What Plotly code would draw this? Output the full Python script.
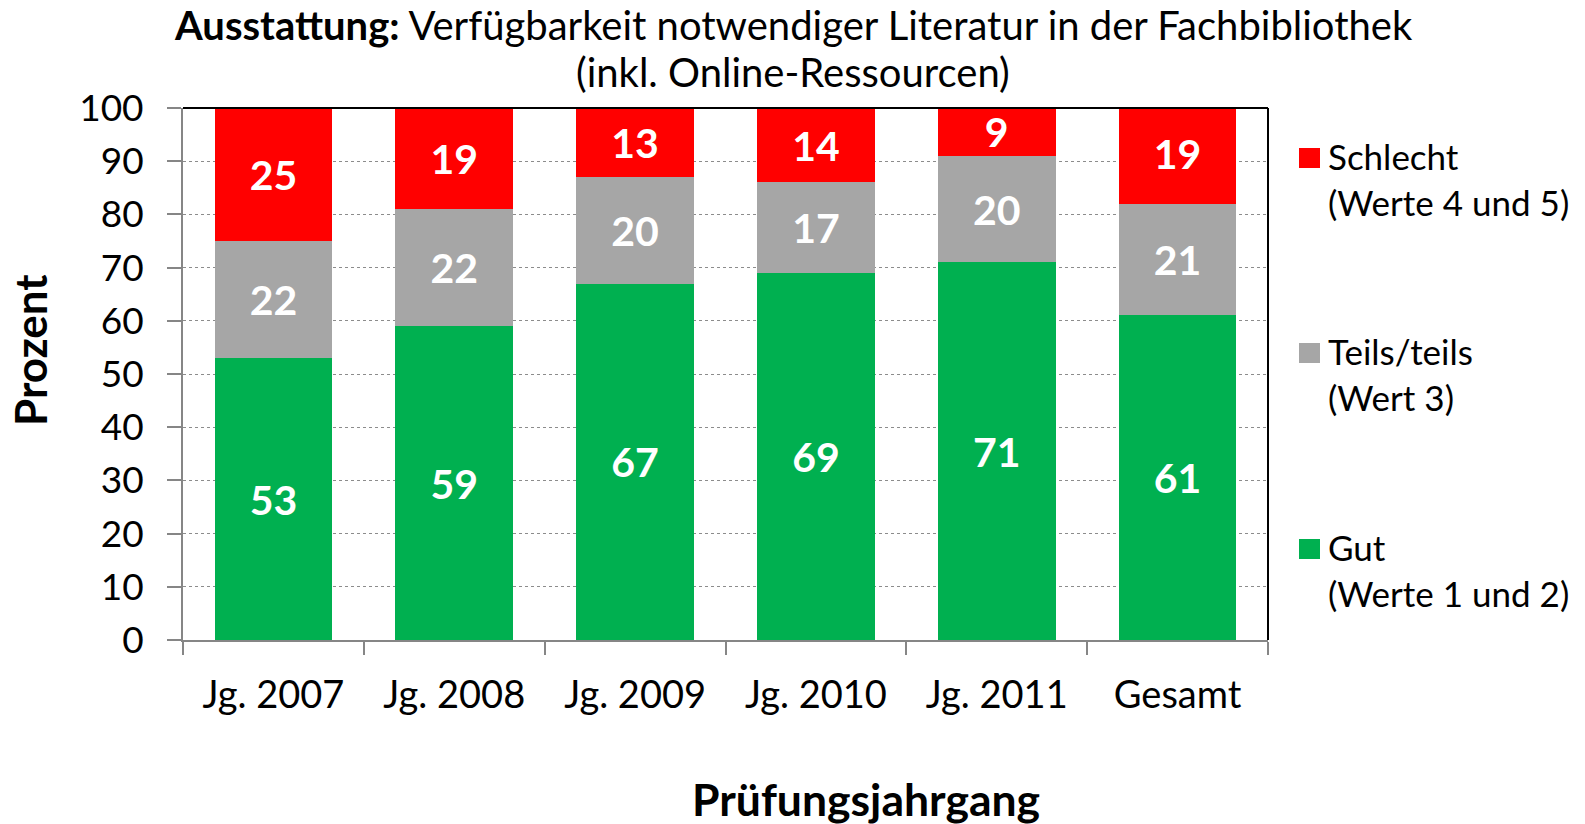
import plotly.graph_objects as go

categories = ["Jg. 2007", "Jg. 2008", "Jg. 2009", "Jg. 2010", "Jg. 2011", "Gesamt"]
gut = [53, 59, 67, 69, 71, 61]
teils = [22, 22, 20, 17, 20, 21]
schlecht = [25, 19, 13, 14, 9, 19]

series = [
    ("Gut", "(Werte 1 und 2)", gut, "#00B050"),
    ("Teils/teils", "(Wert 3)", teils, "#A6A6A6"),
    ("Schlecht", "(Werte 4 und 5)", schlecht, "#FF0000"),
]

FONT = "Lato"
W, H = 1585, 824
ML, MR, MT, MB = 183, 317, 108, 184
PW, PH = W - ML - MR, H - MT - MB

fig = go.Figure()
for name, sub, vals, col in series:
    fig.add_trace(go.Bar(
        x=categories, y=vals, name=f"{name} {sub}", marker=dict(color=col, line=dict(width=0)),
        text=[str(v) for v in vals], textposition="inside", insidetextanchor="middle",
        textangle=0, constraintext="none",
        textfont=dict(family=FONT, size=41, color="white", weight="bold"),
        showlegend=False, cliponaxis=True, hoverinfo="skip",
    ))

fig.update_layout(
    barmode="stack", bargap=0.35,
    width=W, height=H,
    paper_bgcolor="white", plot_bgcolor="white",
    margin=dict(l=ML, r=MR, t=MT, b=MB),
    font=dict(family=FONT, color="black"),
    uniformtext=dict(minsize=41, mode="show"),
    showlegend=False,
)

fig.update_yaxes(
    range=[0, 100], dtick=10, tickmode="linear",
    showgrid=True, gridcolor="#8C8C8C", griddash="dot", gridwidth=1.3,
    showline=True, linecolor="#868686", linewidth=2,
    ticks="outside", ticklen=14, tickcolor="#868686", tickwidth=2,
    tickfont=dict(family=FONT, size=37, color="black"), ticklabelstandoff=16,
    zeroline=False,
)
fig.update_xaxes(
    showline=True, linecolor="#868686", linewidth=2,
    ticks="outside", ticklen=13, tickcolor="#868686", tickwidth=2, tickson="boundaries",
    tickfont=dict(family=FONT, size=38, color="black"), ticklabelstandoff=20,
)

def px_x(x):  # page x pixel -> paper x
    return (x - ML) / PW

def px_y(y):  # page y pixel -> paper y
    return (H - MB - y) / PH

# Title (two lines)
fig.add_annotation(
    xref="paper", yref="paper", x=px_x(793), y=px_y(0), xanchor="center", yanchor="top",
    text="<b>Ausstattung:</b> Verfügbarkeit notwendiger Literatur in der Fachbibliothek",
    showarrow=False, font=dict(family=FONT, size=40, color="black"), borderpad=0,
)
fig.add_annotation(
    xref="paper", yref="paper", x=px_x(793), y=px_y(72), xanchor="center", yanchor="middle",
    text="(inkl. Online-Ressourcen)",
    showarrow=False, font=dict(family=FONT, size=40, color="black"), borderpad=0,
)
# Axis titles
fig.add_annotation(
    xref="paper", yref="paper", x=px_x(866), y=px_y(798), xanchor="center", yanchor="middle",
    text="<b>Prüfungsjahrgang</b>", showarrow=False, font=dict(family=FONT, size=44.5, color="black"),
)
fig.add_annotation(
    xref="paper", yref="paper", x=px_x(30), y=px_y(350), xanchor="center", yanchor="middle",
    text="<b>Prozent</b>", textangle=-90, showarrow=False, borderpad=0,
    font=dict(family=FONT, size=44, color="black"),
)

# Legend (drawn manually to match the large spacing and square keys)
legend_top = [148, 343, 539]
for (name, sub, vals, col), top in zip(reversed(series), legend_top):
    fig.add_shape(type="rect", xref="paper", yref="paper",
                  x0=px_x(1299), x1=px_x(1320), y0=px_y(top), y1=px_y(top + 20),
                  fillcolor=col, line=dict(width=0))
    fig.add_annotation(
        xref="paper", yref="paper", x=px_x(1326), y=px_y(top + 31), xanchor="left", yanchor="middle",
        text=f"{name}<br>{sub}", showarrow=False, align="left",
        font=dict(family=FONT, size=35, color="black"),
    )

# black top and right frame lines of the plot area
fig.add_shape(type="line", xref="paper", yref="paper", x0=0, x1=1, y0=1, y1=1,
              line=dict(color="black", width=2))
fig.add_shape(type="line", xref="paper", yref="paper", x0=1, x1=1, y0=0, y1=1,
              line=dict(color="black", width=2))

fig.write_html(
    "out.html",
    config={"displayModeBar": False},
    post_script="document.body.style.margin='0';document.documentElement.style.overflow='hidden';document.body.style.overflow='hidden';",
)
